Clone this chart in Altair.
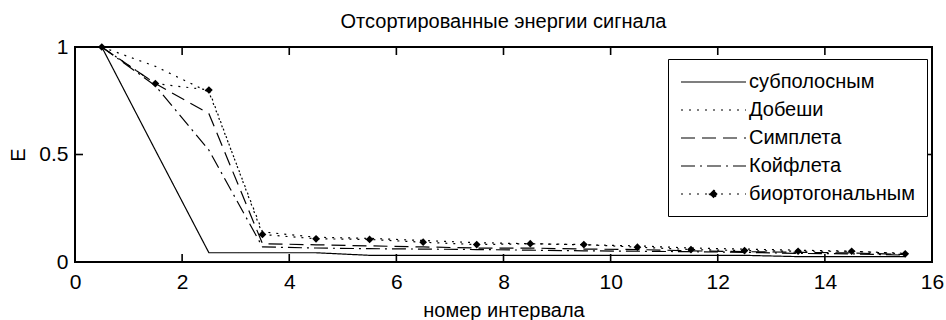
import altair as alt
import pandas as pd

FONT = "Liberation Sans, Arial, sans-serif"
FRAME_COLOR = "black"

# ---- data ----
x_vals = [0.5, 1.5, 2.5, 3.5, 4.5, 5.5, 6.5, 7.5, 8.5, 9.5, 10.5, 11.5, 12.5, 13.5, 14.5, 15.5]
series_names = ["субполосным", "Добеши", "Симплета", "Койфлета", "биортогональным"]
subband = [1.0, 0.52, 0.043, 0.043, 0.043, 0.031, 0.031, 0.031, 0.031, 0.031, 0.031, 0.031, 0.031, 0.025, 0.025, 0.025]
daubechies = [1.0, 0.91, 0.79, 0.14, 0.115, 0.11, 0.10, 0.09, 0.085, 0.08, 0.075, 0.065, 0.06, 0.055, 0.05, 0.04]
symlet = [1.0, 0.83, 0.69, 0.085, 0.08, 0.075, 0.07, 0.065, 0.065, 0.06, 0.058, 0.052, 0.048, 0.045, 0.042, 0.035]
coiflet = [1.0, 0.82, 0.52, 0.07, 0.065, 0.062, 0.06, 0.058, 0.055, 0.052, 0.05, 0.048, 0.045, 0.04, 0.038, 0.032]
biorth = [1.0, 0.83, 0.80, 0.128, 0.108, 0.105, 0.092, 0.081, 0.085, 0.081, 0.069, 0.058, 0.053, 0.05, 0.05, 0.038]
x_ticks = [0, 2, 4, 6, 8, 10, 12, 14, 16]
y_ticks = [0, 0.5, 1]

W, H = 857, 215
TICK_PX = 8

rows = []
for name, vals in zip(series_names, [subband, daubechies, symlet, coiflet, biorth]):
    for xv, yv in zip(x_vals, vals):
        rows.append({"x": xv, "E": yv, "series": name})
df = pd.DataFrame(rows)

# inward tick marks (MATLAB style), built from the tick arrays
ty = TICK_PX / H * (y_ticks[-1] - y_ticks[0])
tx = TICK_PX / W * (x_ticks[-1] - x_ticks[0])
tick_rows = []
for xv in x_ticks:
    tick_rows.append({"x": xv, "x2": xv, "E": y_ticks[0], "E2": y_ticks[0] + ty})
    tick_rows.append({"x": xv, "x2": xv, "E": y_ticks[-1], "E2": y_ticks[-1] - ty})
for yv in y_ticks:
    tick_rows.append({"x": x_ticks[0], "x2": x_ticks[0] + tx, "E": yv, "E2": yv})
    tick_rows.append({"x": x_ticks[-1], "x2": x_ticks[-1] - tx, "E": yv, "E2": yv})
ticks_df = pd.DataFrame(tick_rows)

xscale = alt.Scale(domain=[x_ticks[0], x_ticks[-1]], nice=False, zero=False)
yscale = alt.Scale(domain=[y_ticks[0], y_ticks[-1]], nice=False, zero=False)
xaxis = alt.Axis(values=x_ticks, format="d", labelPadding=9, titlePadding=8, labelFlush=False)
yaxis = alt.Axis(values=y_ticks, format="~g", labelPadding=7, titlePadding=10)

X = lambda f: alt.X(f, type="quantitative", scale=xscale, axis=xaxis, title="номер интервала")
Y = lambda f: alt.Y(f, type="quantitative", scale=yscale, axis=yaxis, title="E")

LINE_PATH = "M-1,0H5.5"
MARK_PATH = LINE_PATH + "M2.25,-0.42L2.67,0L2.25,0.42L1.83,0Z"

dash = alt.StrokeDash(
    "series:N",
    sort=series_names,
    scale=alt.Scale(domain=series_names,
                    range=[[1, 0], [2, 6], [14, 7], [14, 5, 2, 5], [2, 6]]),
    legend=alt.Legend(
        title=None, orient="none", legendX=593, legendY=12,
        strokeColor="black", fillColor="white", padding=12,
        labelFont=FONT, labelFontSize=20, labelColor="black", labelOffset=47,
        symbolType=alt.ExprRef(expr="datum.value === '%s' ? '%s' : '%s'" % (series_names[-1], MARK_PATH, LINE_PATH)),
        symbolFillColor=alt.ExprRef(expr="datum.value === '%s' ? 'black' : 'transparent'" % series_names[-1]),
        symbolSize=400, symbolStrokeWidth=1.2,
        symbolStrokeColor="black", rowPadding=7, labelLimit=400,
    ),
)

lines = alt.Chart(df).mark_line(color="black", strokeWidth=1.2).encode(
    x=X("x"), y=Y("E"), strokeDash=dash, detail="series:N"
)

points = alt.Chart(df[df["series"] == series_names[-1]]).mark_point(
    shape="diamond", filled=True, size=60, color="black", opacity=1
).encode(x=X("x"), y=Y("E"))

ticks = alt.Chart(ticks_df).mark_rule(stroke=FRAME_COLOR, strokeWidth=1.6).encode(
    x=X("x"), x2="x2", y=Y("E"), y2="E2"
)

frame = alt.Chart(ticks_df.iloc[:1]).mark_rect(
    fill="transparent", stroke=FRAME_COLOR, strokeWidth=2
).encode(
    x=alt.value(0), x2=alt.value(W), y=alt.value(0), y2=alt.value(H)
)

chart = alt.layer(lines, points, ticks, frame).properties(
    width=W, height=H,
    autosize=alt.AutoSizeParams(type="none"),
    padding={"left": 75, "top": 47, "right": 14, "bottom": 58},
    title=alt.Title("Отсортированные энергии сигнала", font=FONT, fontSize=20,
                    fontWeight="normal", color="black", anchor="middle",
                    frame="group", offset=4),
    background="white",
).configure_view(stroke=FRAME_COLOR, strokeWidth=2).configure_axis(
    grid=False, domain=False, ticks=False, tickSize=0,
    labelFont=FONT, labelFontSize=21, labelColor="black",
    titleFont=FONT, titleFontSize=20, titleFontWeight="normal", titleColor="black",
)

chart.save("out.html", embed_options={"renderer": "svg", "actions": False})
